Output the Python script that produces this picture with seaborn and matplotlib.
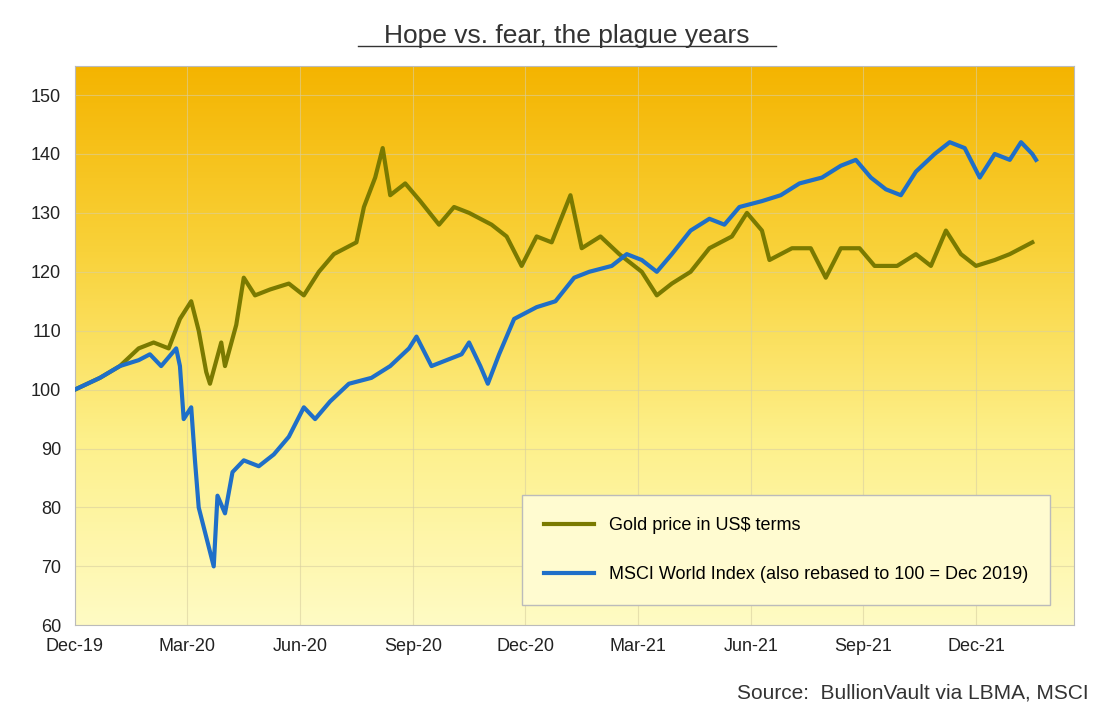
import numpy as np
import pandas as pd
import matplotlib
matplotlib.use("Agg")
import matplotlib.pyplot as plt
import seaborn as sns
from matplotlib.colors import LinearSegmentedColormap

plt.rcParams["font.family"] = "Liberation Sans"

# months since Dec-2019
gold_x = [0, 0.67, 1.2, 1.7, 2.1, 2.5, 2.8, 3.1, 3.3, 3.5, 3.6, 3.9, 4.0, 4.3, 4.5, 4.8,
          5.2, 5.7, 6.1, 6.5, 6.9, 7.5, 7.7, 8.0, 8.2, 8.4, 8.8, 9.2, 9.7, 10.1, 10.5,
          11.1, 11.5, 11.9, 12.3, 12.7, 13.2, 13.5, 14.0, 14.5, 15.1, 15.5, 15.9, 16.4,
          16.9, 17.5, 17.9, 18.3, 18.5, 19.1, 19.6, 20.0, 20.4, 20.9, 21.3, 21.9, 22.4,
          22.8, 23.2, 23.6, 24.0, 24.5, 24.9, 25.5]
gold_y = [100, 102, 104, 107, 108, 107, 112, 115, 110, 103, 101, 108, 104, 111, 119, 116,
          117, 118, 116, 120, 123, 125, 131, 136, 141, 133, 135, 132, 128, 131, 130,
          128, 126, 121, 126, 125, 133, 124, 126, 123, 120, 116, 118, 120,
          124, 126, 130, 127, 122, 124, 124, 119, 124, 124, 121, 121, 123,
          121, 127, 123, 121, 122, 123, 125]

msci_x = [0, 0.67, 1.2, 1.7, 2.0, 2.3, 2.7, 2.8, 2.9, 3.1, 3.2, 3.3, 3.5, 3.7, 3.8, 4.0,
          4.2, 4.5, 4.9, 5.3, 5.7, 6.1, 6.4, 6.8, 7.3, 7.9, 8.4, 8.9, 9.1, 9.5, 9.9,
          10.3, 10.5, 10.8, 11.0, 11.3, 11.7, 12.3, 12.8, 13.3, 13.7, 14.3, 14.7, 15.1,
          15.5, 15.9, 16.4, 16.9, 17.3, 17.7, 18.3, 18.8, 19.3, 19.9, 20.4, 20.8, 21.2,
          21.6, 22.0, 22.4, 22.9, 23.3, 23.7, 24.1, 24.5, 24.9, 25.2, 25.5, 25.6]
msci_y = [100, 102, 104, 105, 106, 104, 107, 104, 95, 97, 88, 80, 75, 70, 82, 79,
          86, 88, 87, 89, 92, 97, 95, 98, 101, 102, 104, 107, 109, 104, 105,
          106, 108, 104, 101, 106, 112, 114, 115, 119, 120, 121, 123, 122,
          120, 123, 127, 129, 128, 131, 132, 133, 135, 136, 138, 139, 136,
          134, 133, 137, 140, 142, 141, 136, 140, 139, 142, 140, 139]

tick_pos = [0, 3, 6, 9, 12, 15, 18, 21, 24]
tick_labels = ["Dec-19", "Mar-20", "Jun-20", "Sep-20", "Dec-20",
               "Mar-21", "Jun-21", "Sep-21", "Dec-21"]

GOLD_COLOR = "#7a7a00"
MSCI_COLOR = "#1f6fc8"

df = pd.concat([
    pd.DataFrame({"month": gold_x, "value": gold_y, "series": "Gold price in US$ terms"}),
    pd.DataFrame({"month": msci_x, "value": msci_y,
                  "series": "MSCI World Index (also rebased to 100 = Dec 2019)"}),
])

fig = plt.figure(figsize=(11, 7.13), dpi=100)
ax = fig.add_axes([0.068, 0.123, 0.908, 0.785])

xmax = 26.6
cmap = LinearSegmentedColormap.from_list("bg", ["#fffbc4", "#fdf08a", "#f9d23a", "#f4b400"])
grad = np.linspace(0, 1, 256).reshape(-1, 1)
ax.imshow(grad, aspect="auto", cmap=cmap, origin="lower",
          extent=[0, xmax, 60, 155], zorder=0)

sns.lineplot(data=df, x="month", y="value", hue="series",
             palette=[GOLD_COLOR, MSCI_COLOR], linewidth=3, ax=ax, zorder=3)

ax.set_xlim(0, xmax)
ax.set_ylim(60, 155)
ax.set_xticks(tick_pos)
ax.set_xticklabels(tick_labels)
ax.set_yticks(range(60, 151, 10))
ax.tick_params(labelsize=13, colors="#222222", length=0)
ax.tick_params(axis="x", pad=9)
ax.tick_params(axis="y", pad=10)
ax.grid(True, color="#d9cfa0", linewidth=0.8, alpha=0.6, zorder=1)
ax.set_axisbelow(True)
for s in ax.spines.values():
    s.set_color("#bbbbbb")
ax.set_xlabel("")
ax.set_ylabel("")

leg = ax.legend(loc="lower right", bbox_to_anchor=(0.985, 0.02), fontsize=13,
                frameon=True, fancybox=False, borderpad=1.2, labelspacing=1.8,
                handlelength=2.8)
leg.get_frame().set_facecolor("#fffbd0")
leg.get_frame().set_edgecolor("#bbbbbb")
leg.get_frame().set_alpha(1)

fig.text(0.515, 0.94, "Hope vs. fear, the plague years", ha="center",
         fontsize=19, color="#333333")
fig.add_artist(plt.Line2D([0.325, 0.705], [0.936, 0.936], color="#333333", linewidth=1))
fig.text(0.99, 0.02, "Source:  BullionVault via LBMA, MSCI", ha="right",
         fontsize=15, color="#333333")

fig.savefig("out.png", dpi=100)
